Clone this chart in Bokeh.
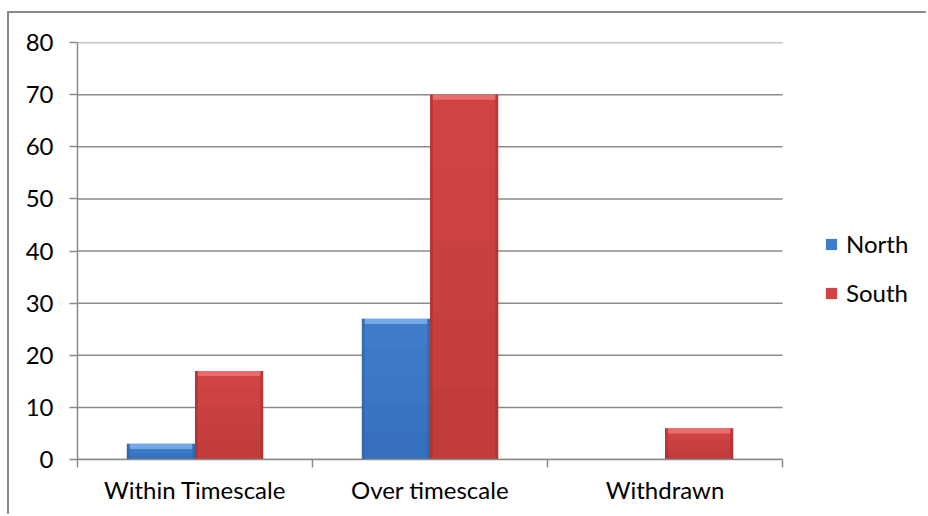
from bokeh.plotting import figure
from bokeh.models import Range1d, FixedTicker, Legend, LegendItem
from bokeh.embed import file_html
from bokeh.resources import INLINE

# Data
categories = ["Within Timescale", "Over timescale", "Withdrawn"]
north = [3, 27, 0]
south = [17, 70, 6]
y_ticks = [0, 10, 20, 30, 40, 50, 60, 70, 80]

FONT = "Lato"
GRID = "#8a8a8a"

series = [
    # name, values, offset, main, light top, dark edge
    ("North", north, -0.145, "#3f7dca", "#86b8f0", "#2a5a98"),
    ("South", south, 0.145, "#d24444", "#f27a7a", "#982a2a"),
]
BAR_W = 0.29
N = len(categories)

# the frame runs on to the right edge so the legend has room beside the bars
p = figure(
    width=919, height=503,
    x_range=Range1d(0, N + 0.621), y_range=Range1d(0, 80),
    output_backend="svg", toolbar_location=None,
    min_border_left=68, min_border_right=0,
    min_border_top=29, min_border_bottom=57,
    styles={"margin-left": "7px", "margin-top": "11px",
            "border-left": "2px solid #8a8a8a", "border-top": "2px solid #8a8a8a"},
)
p.outline_line_color = None
p.background_fill_color = "white"
p.border_fill_color = "white"

# horizontal gridlines spanning the category area only
p.xgrid.grid_line_color = None
p.ygrid.grid_line_color = None
p.segment(x0=[0] * len(y_ticks), x1=[N] * len(y_ticks), y0=y_ticks, y1=y_ticks,
          line_color=GRID, line_width=1.5)

# y axis
p.yaxis.ticker = FixedTicker(ticks=y_ticks)
p.yaxis.axis_line_color = GRID
p.yaxis.axis_line_width = 1.5
p.yaxis.major_tick_line_color = GRID
p.yaxis.major_tick_line_width = 1.5
p.yaxis.major_tick_in = 0
p.yaxis.major_tick_out = 8
p.yaxis.minor_tick_line_color = None
p.yaxis.major_label_standoff = 16
p.yaxis.major_label_text_font = FONT
p.yaxis.major_label_text_font_size = "24px"
p.yaxis.major_label_text_color = "black"

# x axis: labels at category centres, tick marks at category boundaries
centres = [i + 0.5 for i in range(N)]
bounds = list(range(N + 1))
p.xaxis.bounds = (0, N)
p.xaxis.ticker = FixedTicker(ticks=centres, minor_ticks=bounds)
p.xaxis.major_label_overrides = {c: name for c, name in zip(centres, categories)}
p.xaxis.axis_line_color = GRID
p.xaxis.axis_line_width = 1.5
p.xaxis.major_tick_line_color = None
p.xaxis.minor_tick_line_color = GRID
p.xaxis.minor_tick_line_width = 1.5
p.xaxis.minor_tick_in = 0
p.xaxis.minor_tick_out = 8
p.xaxis.major_label_standoff = 7
p.xaxis.major_label_text_font = FONT
p.xaxis.major_label_text_font_size = "24px"
p.xaxis.major_label_text_color = "black"

legend_items = []
for name, vals, off, main, light, dark in series:
    xs = [c + off for c, v in zip(centres, vals) if v > 0]
    vs = [v for v in vals if v > 0]
    bar = p.vbar(x=xs, top=vs, bottom=0, width=BAR_W,
                 fill_color=main, line_color=None)
    # soft vertical shading, darker towards the base
    for frac in (0.2, 0.4, 0.6, 0.8):
        p.vbar(x=xs, top=[v * frac for v in vs], bottom=0, width=BAR_W,
               fill_color=dark, fill_alpha=0.07, line_color=None)
    # bevelled side edges
    edge = 0.012
    p.vbar(x=[x - BAR_W / 2 + edge / 2 for x in xs], top=vs, bottom=0, width=edge,
           fill_color=dark, fill_alpha=0.45, line_color=None)
    p.vbar(x=[x + BAR_W / 2 - edge / 2 for x in xs], top=vs, bottom=0, width=edge,
           fill_color=dark, fill_alpha=0.45, line_color=None)
    # bevelled top
    p.vbar(x=xs, top=vs, bottom=[max(v - 1.0, 0) for v in vs], width=BAR_W - 2 * edge,
           fill_color=light, fill_alpha=0.75, line_color=None)
    legend_items.append(LegendItem(label=name, renderers=[bar]))

legend = Legend(items=legend_items, location=(747, 152),
                label_text_font=FONT, label_text_font_size="24px",
                label_text_color="black",
                glyph_width=14, glyph_height=14, label_standoff=8,
                spacing=20, padding=0, margin=0,
                border_line_color=None, background_fill_alpha=0)
p.add_layout(legend, "center")

open("out.html", "w").write(file_html(p, INLINE))
